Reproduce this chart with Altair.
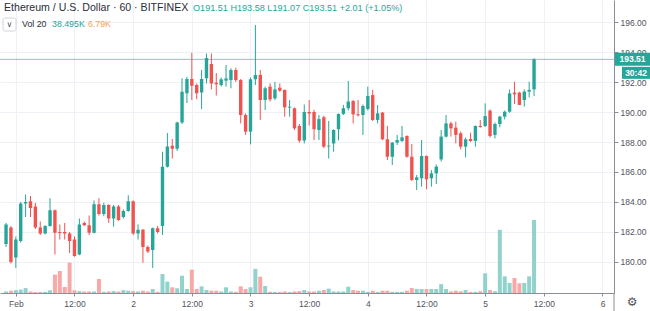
import altair as alt
import pandas as pd

# hour offsets from Feb 1 00:00 (hourly candles)
hours = list(range(-2, 107))

opens = [181.2, 182.3, 180.3, 181.4, 183.9, 184.05, 183.7, 182.3, 181.9, 182.4,
         183.45, 182.0, 182.0, 181.9, 181.5, 180.5, 182.6, 182.45, 181.95, 183.85,
         183.2, 183.8, 182.9, 183.7, 183.0, 183.4, 184.05, 181.9, 182.15, 181.0,
         180.8, 182.25, 182.4, 186.35, 187.75, 187.55, 189.3, 191.25, 192.2, 191.8,
         191.3, 192.25, 193.2, 191.95, 191.8, 192.09, 192.13, 192.8, 192.13, 189.8,
         188.69, 192.18, 192.47, 190.8, 191.69, 190.91, 191.62, 191.47, 190.29, 190.25,
         189.07, 188.1, 190.0, 190.0, 188.8, 189.65, 187.7, 187.9, 188.85, 189.87,
         190.25, 190.73, 189.85, 189.8, 190.2, 191.13, 189.47, 189.96, 188.18, 187.02,
         187.96, 188.07, 188.4, 187.02, 185.47, 185.58, 187.07, 185.58, 185.91, 186.84,
         188.36, 189.24, 188.96, 188.58, 187.69, 188.2, 188.07, 189.07, 189.07, 190.09,
         188.47, 189.2, 189.69, 190.02, 191.29, 191.29, 190.8, 191.36, 191.51]
highs = [182.6, 182.4, 181.7, 184.0, 184.5, 184.4, 183.95, 182.7, 182.45, 184.25,
         183.5, 182.5, 182.6, 182.0, 181.7, 182.9, 182.7, 183.1, 184.1, 184.25,
         183.95, 183.85, 183.8, 183.8, 183.5, 184.45, 184.1, 182.5, 182.2, 181.1,
         182.3, 182.4, 187.35, 188.6, 188.2, 189.35, 192.25, 192.35, 193.95, 191.9,
         192.8, 193.9, 193.9, 192.6, 192.3, 193.13, 192.91, 192.96, 192.2, 189.9,
         192.3, 195.8, 192.8, 191.7, 191.91, 192.0, 191.91, 191.5, 190.8, 190.3,
         189.2, 190.5, 190.8, 190.15, 189.8, 189.75, 189.4, 188.85, 189.9, 190.47,
         192.07, 190.8, 190.8, 190.5, 191.69, 191.47, 190.47, 190.0, 189.07, 188.0,
         188.47, 189.07, 188.45, 187.87, 185.8, 188.13, 187.1, 186.13, 186.5, 188.8,
         189.8, 189.35, 189.36, 188.7, 188.3, 188.62, 189.1, 189.47, 190.58, 190.18,
         189.3, 189.75, 190.1, 191.5, 192.02, 191.35, 191.5, 192.02, 193.58]
lows = [181.0, 179.9, 179.6, 181.3, 183.0, 183.0, 182.2, 181.8, 181.85, 182.35,
        180.5, 181.5, 181.5, 180.6, 180.35, 180.45, 182.4, 181.8, 181.9, 183.1,
        183.05, 182.6, 182.35, 182.75, 182.9, 183.35, 181.8, 181.5, 179.95, 180.6,
        179.6, 181.9, 181.8, 186.3, 186.9, 187.4, 189.2, 190.6, 190.8, 190.85,
        190.2, 191.9, 191.5, 191.1, 191.7, 191.69, 191.58, 192.0, 189.24, 188.47,
        187.84, 191.8, 189.47, 190.13, 190.7, 190.8, 191.35, 189.69, 189.69, 188.8,
        187.96, 187.9, 189.1, 188.13, 188.13, 187.6, 186.9, 187.35, 188.1, 189.8,
        190.1, 189.24, 189.7, 188.47, 190.1, 189.4, 189.24, 188.13, 186.8, 186.47,
        187.8, 188.0, 186.95, 185.4, 184.8, 185.02, 184.85, 185.02, 185.2, 186.7,
        188.3, 188.36, 187.91, 187.5, 186.98, 188.0, 187.69, 188.95, 189.0, 188.3,
        188.24, 188.98, 189.5, 189.95, 190.53, 190.47, 190.36, 190.98, 191.07]
closes = [182.5, 180.0, 181.5, 183.9, 184.0, 183.6, 182.3, 181.9, 182.4, 183.45,
          181.95, 181.93, 181.9, 181.4, 180.4, 182.5, 182.45, 181.95, 183.85, 183.2,
          183.8, 182.9, 183.7, 182.8, 183.4, 184.05, 181.9, 182.15, 181.0, 180.7,
          182.25, 182.0, 186.35, 187.7, 187.55, 189.3, 191.35, 192.2, 191.75, 191.25,
          192.2, 193.6, 191.9, 191.85, 192.18, 192.24, 192.8, 192.13, 189.8, 188.69,
          192.18, 192.47, 190.8, 191.58, 190.84, 191.51, 191.42, 190.31, 190.35, 188.91,
          188.09, 190.0, 189.9, 188.85, 189.53, 187.69, 187.75, 188.8, 189.87, 190.25,
          190.7, 189.84, 189.78, 190.4, 191.07, 189.47, 189.91, 188.18, 187.02, 187.96,
          188.13, 188.31, 187.02, 185.47, 185.64, 187.07, 185.51, 185.91, 186.36, 188.36,
          189.24, 188.91, 188.47, 187.69, 188.18, 188.07, 189.07, 189.0, 189.73, 188.4,
          189.2, 189.69, 190.02, 191.24, 191.18, 190.47, 191.36, 191.47, 193.51]
volumes_k = [0.8, 1.2, 1.5, 1.8, 2.6, 0.8, 0.5, 0.5, 0.6, 1.4,
             9.7, 11.6, 3.2, 16.0, 1.4, 1.0, 0.8, 0.8, 0.8, 7.4,
             0.6, 0.8, 1.0, 0.8, 1.5, 1.2, 1.0, 0.8, 1.2, 0.8,
             2.1, 0.6, 10.0, 6.0, 3.0, 2.5, 9.1, 2.1, 12.3, 2.1,
             3.5, 1.6, 1.2, 1.2, 0.8, 3.0, 0.8, 0.6, 3.5, 2.1,
             3.0, 12.7, 8.6, 3.7, 0.6, 0.5, 0.5, 0.8, 0.5, 0.8,
             1.0, 1.6, 0.8, 0.8, 1.2, 1.6, 2.3, 0.8, 0.8, 0.8,
             3.3, 1.6, 1.2, 1.2, 0.6, 1.2, 0.6, 1.2, 1.2, 0.6,
             0.6, 0.6, 1.2, 2.6, 2.1, 2.1, 2.1, 2.1, 2.1, 4.7,
             2.1, 0.8, 1.2, 0.9, 1.6, 0.6, 0.6, 0.9, 10.4, 1.6,
             0.9, 33.3, 8.8, 5.3, 7.9, 5.1, 5.3, 8.8, 38.495]

price_ticks = [180, 182, 184, 186, 188, 190, 192, 194, 196]
time_ticks = [0, 12, 24, 36, 48, 60, 72, 84, 96, 108, 120]
time_labels = ["Feb", "12:00", "2", "12:00", "3", "12:00", "4", "12:00", "5", "12:00", "6"]

last_price = closes[-1]
title_text = "Ethereum / U.S. Dollar · 60 · BITFINEX"
ohlc_text = "O191.51 H193.58 L191.07 C193.51 +2.01 (+1.05%)"
vol_label = "Vol 20"
vol_value = "38.495K"
vol_ma = "6.79K"
countdown = "30:42"

UP = "#26a69a"
DOWN = "#ef5350"
VUP = "#92d2cc"
VDOWN = "#f7a9a7"
FONT = "Liberation Sans"

df = pd.DataFrame({"h": hours, "open": opens, "high": highs, "low": lows,
                   "close": closes, "vol": volumes_k})

xscale = alt.Scale(domain=[-2.213, 121.33], nice=False, zero=False)
yscale = alt.Scale(domain=[177.933, 197.467], nice=False, zero=False)
vscale = alt.Scale(domain=[0, 154.5], nice=False, zero=True)

is_up = "datum.close >= datum.open"
candle_color = alt.condition(is_up, alt.value(UP), alt.value(DOWN))
vol_color = alt.condition(is_up, alt.value(VUP), alt.value(VDOWN))

label_array = "[" + ",".join("'%s'" % t for t in time_labels) + "]"
xaxis = alt.Axis(values=time_ticks, labelExpr=label_array + "[round(datum.value/12)]",
                 grid=True, gridColor="#eef1f6", domainColor="#8a8e99", tickColor="#8a8e99",
                 tickSize=3, labelFontSize=8.5, labelColor="#50535e", labelFont=FONT,
                 labelPadding=3, title=None, labelFlush=False, labelOverlap=False)
yaxis = alt.Axis(orient="right", values=price_ticks, format=".2f", grid=True,
                 gridColor="#eef1f6", domainColor="#8a8e99", tickColor="#8a8e99",
                 tickSize=4, labelFontSize=8.5, labelColor="#50535e", labelFont=FONT,
                 labelPadding=2, title=None, labelOverlap=False, labelFlush=False, zindex=0)

base = alt.Chart(df)

vol = base.mark_bar(size=4).encode(
    x=alt.X("h:Q", scale=xscale, axis=xaxis),
    y=alt.Y("vol:Q", scale=vscale, axis=None),
    color=vol_color,
)

wick = base.mark_rule(strokeWidth=1).encode(
    x=alt.X("h:Q", scale=xscale),
    y=alt.Y("low:Q", scale=yscale, axis=yaxis),
    y2="high:Q",
    color=candle_color,
)

body = base.mark_bar(size=3.4).encode(
    x=alt.X("h:Q", scale=xscale),
    y=alt.Y("open:Q", scale=yscale, axis=yaxis),
    y2="close:Q",
    color=candle_color,
)

lp = alt.Chart(pd.DataFrame({"last": [last_price]}))

pline = lp.mark_rule(color=UP, strokeWidth=1, opacity=0.6).encode(
    y=alt.Y("last:Q", scale=yscale, axis=yaxis),
)
tag1 = lp.mark_rect(color=UP, yOffset=-6.5, y2Offset=6.5).encode(
    x=alt.value(615), x2=alt.value(650),
    y=alt.Y("last:Q", scale=yscale, axis=yaxis), y2="last:Q",
)
tag1t = lp.mark_text(color="white", font=FONT, fontSize=8.5, fontWeight="bold",
                     align="center", baseline="middle").encode(
    x=alt.value(632.5), y=alt.Y("last:Q", scale=yscale, axis=yaxis),
    text=alt.Text("last:Q", format=".2f"),
)
tag2 = lp.mark_rect(color=UP, yOffset=7.5, y2Offset=19.5).encode(
    x=alt.value(622), x2=alt.value(650),
    y=alt.Y("last:Q", scale=yscale, axis=yaxis), y2="last:Q",
)
tag2t = lp.mark_text(color="white", font=FONT, fontSize=8.5, fontWeight="bold",
                     align="center", baseline="middle", dy=13.5).encode(
    x=alt.value(636), y=alt.Y("last:Q", scale=yscale, axis=yaxis),
    text=alt.value(countdown),
)

one = alt.Chart(pd.DataFrame({"k": [0]}))

def txt(s, x, y, size, color, weight="normal", font=FONT):
    return one.mark_text(align="left", baseline="alphabetic", font=font, fontSize=size,
                         color=color, fontWeight=weight).encode(
        x=alt.value(x), y=alt.value(y), text=alt.value(s))

title = txt(title_text, 4, 11, 10.6, "#2a2e39")
ohlc = txt(ohlc_text, 193, 11, 9.1, UP)
vl = txt(vol_label, 22, 27, 8.8, "#2a2e39")
vv = txt(vol_value, 52, 27, 8.8, UP)
vm = txt(vol_ma, 88, 27, 8.8, "#f5a15a")
chev_box = one.mark_rect(fill="white", stroke="#d1d4dc", strokeWidth=1, cornerRadius=2).encode(
    x=alt.value(3), x2=alt.value(16), y=alt.value(18), y2=alt.value(31))
chev = one.mark_text(align="center", baseline="middle", font="DejaVu Sans", fontSize=8,
                     color="#50535e").encode(x=alt.value(9.5), y=alt.value(24.5),
                                              text=alt.value("∨"))
sep = one.mark_rule(color="#8a8e99", strokeWidth=1).encode(
    x=alt.value(614), y=alt.value(293), y2=alt.value(311))
gear = one.mark_text(align="center", baseline="middle", font="DejaVu Sans", fontSize=12,
                     color="#50535e").encode(x=alt.value(632), y=alt.value(302),
                                              text=alt.value("⚙"))

price_layer = alt.layer(wick, body, pline, tag1, tag2, tag1t, tag2t)

chart = alt.layer(vol, price_layer, title, ohlc, chev_box, chev, vl, vv, vm, sep, gear).resolve_scale(
    y="independent"
).properties(
    width=614, height=293,
    autosize=alt.AutoSizeParams(type="none"),
    padding={"left": 0, "top": 0, "right": 36, "bottom": 18},
    background="white",
).configure_view(strokeWidth=0).configure_axis(labelOverlap=False)

chart.save("out.html", embed_options={"renderer": "svg", "actions": False})
